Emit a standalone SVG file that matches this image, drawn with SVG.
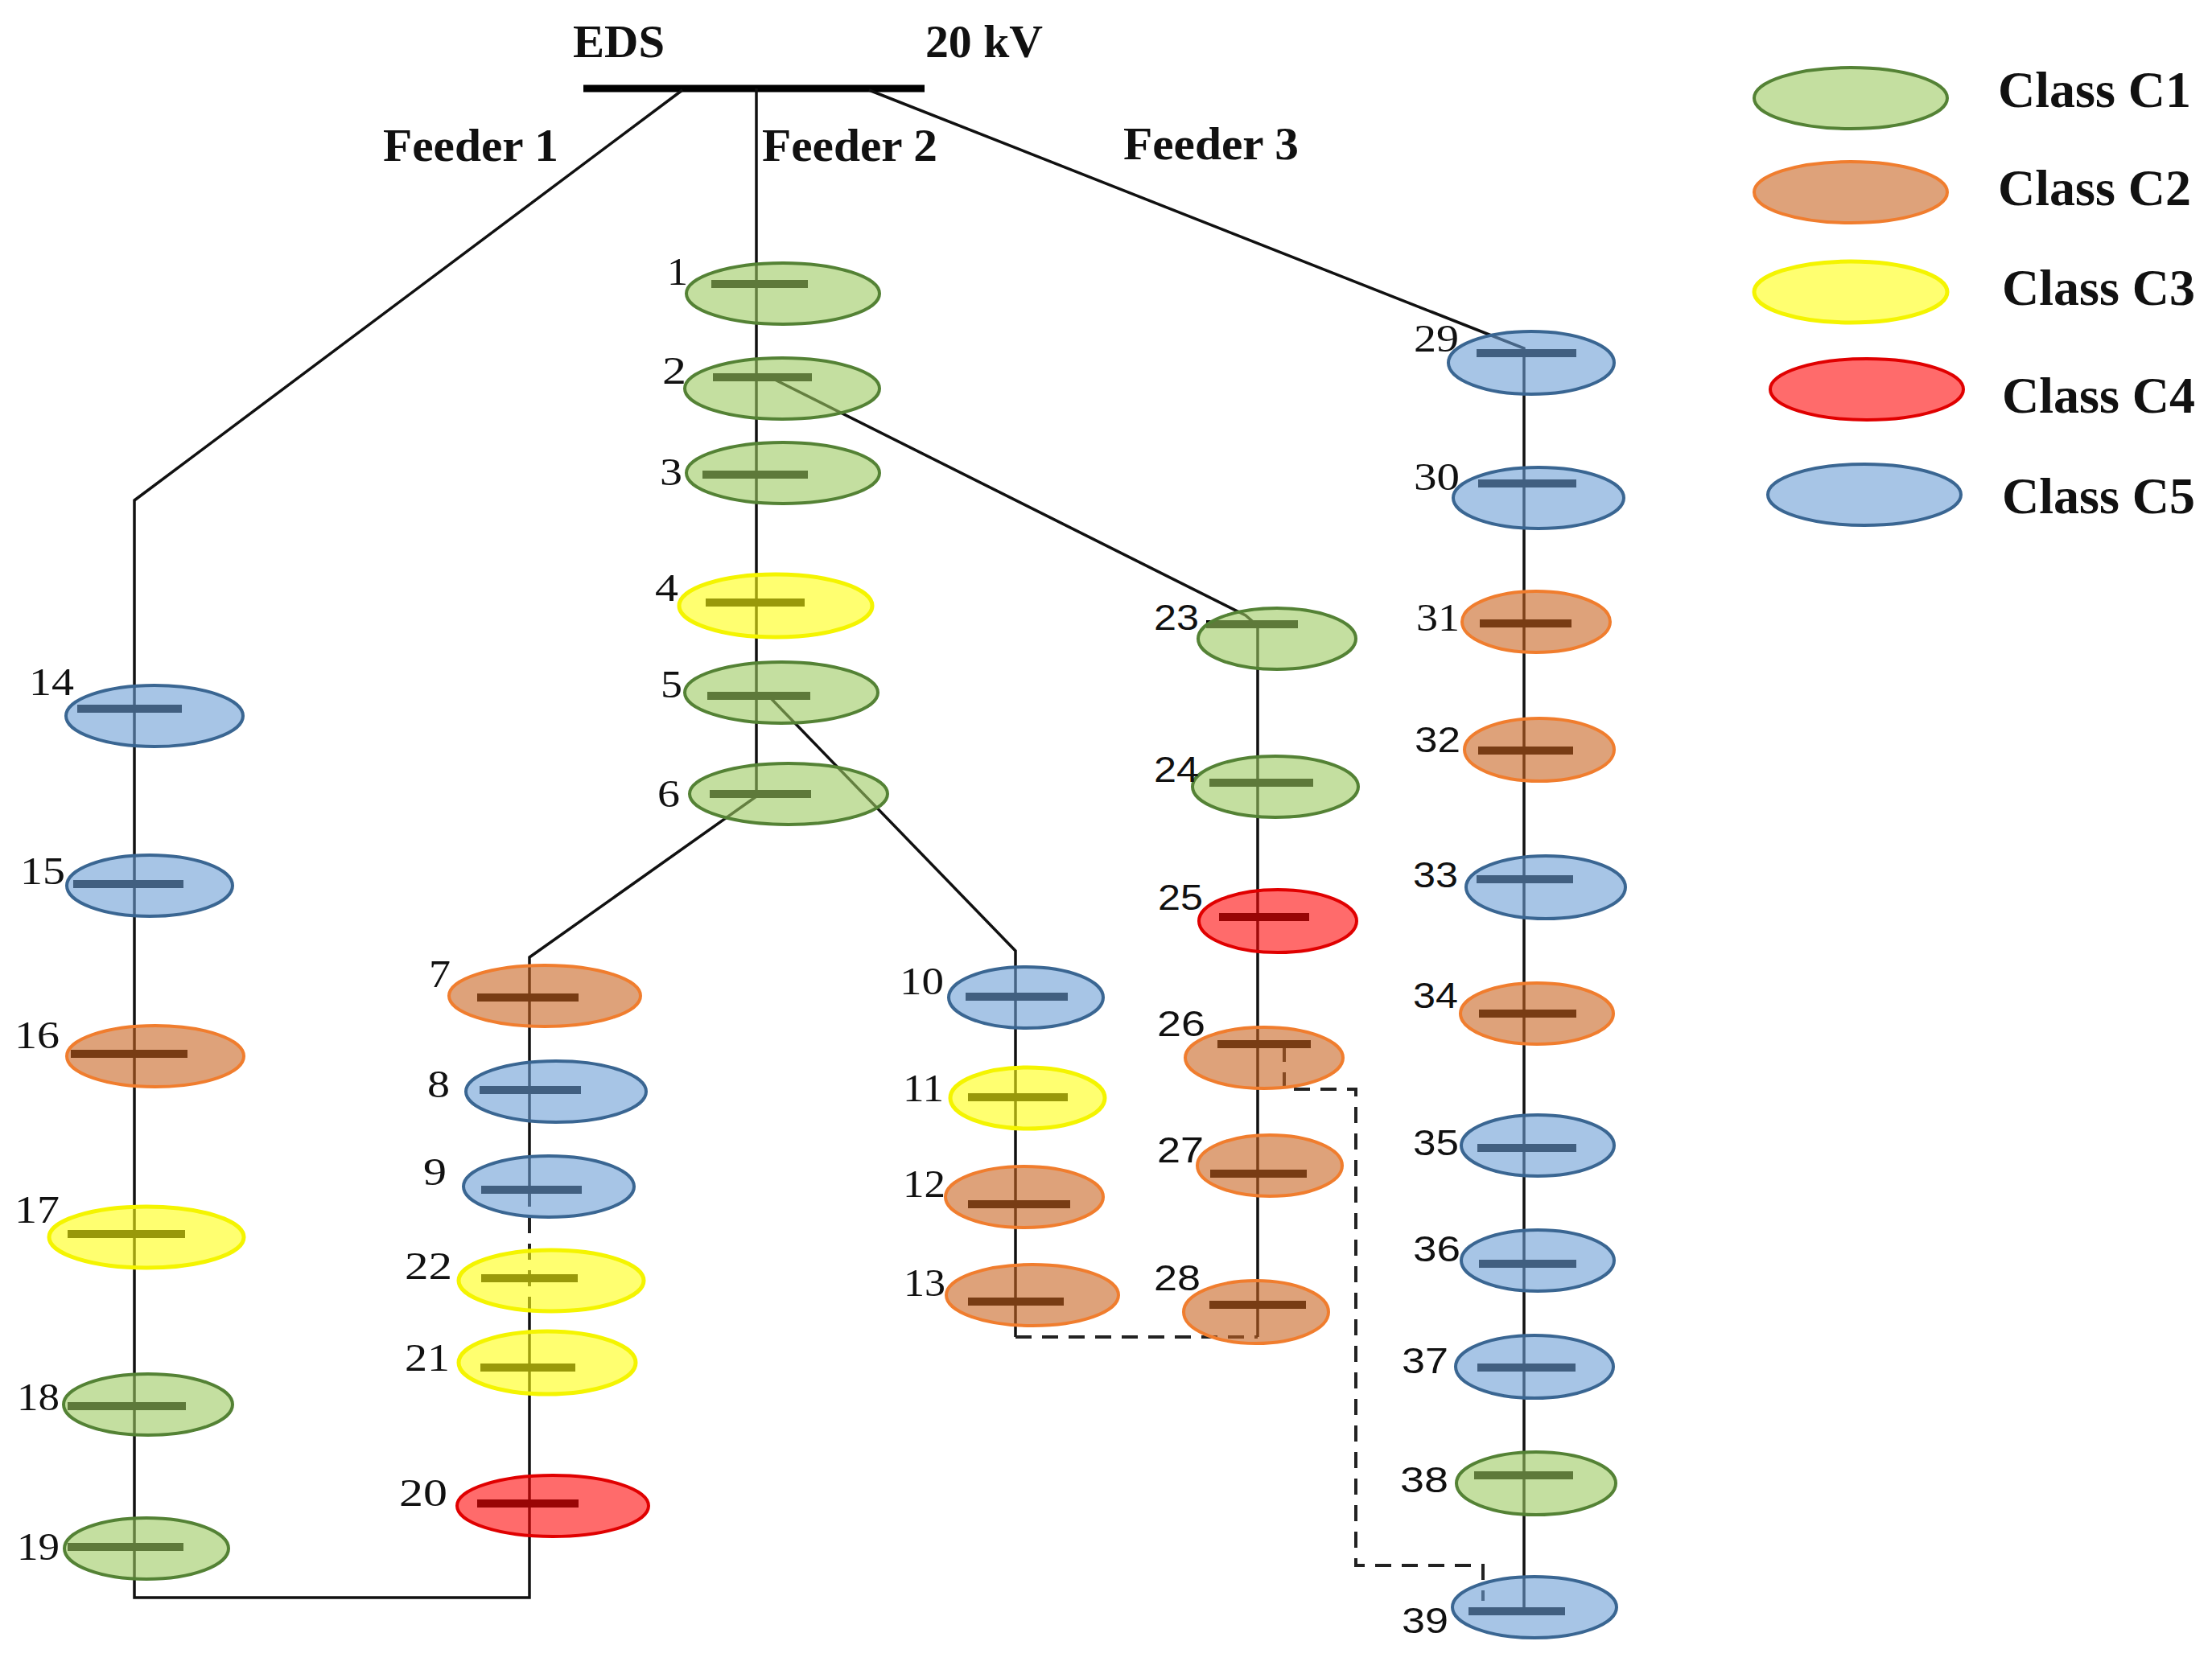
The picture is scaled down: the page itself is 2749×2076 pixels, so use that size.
<svg xmlns="http://www.w3.org/2000/svg" width="2749" height="2076" viewBox="0 0 2749 2076">
<style>
.ln{fill:none;stroke:#111;stroke-width:3.5;stroke-linejoin:miter}
.dl{fill:none;stroke:#222;stroke-width:4;stroke-dasharray:20 13}
.bar{stroke:#000;stroke-width:10}
.c1{fill:#9dca61;fill-opacity:0.6;stroke:#548235;stroke-width:4}
.c2{fill:#c86421;fill-opacity:0.6;stroke:#f07d2e;stroke-width:4}
.c3{fill:#ffff11;fill-opacity:0.6;stroke:#f4f400;stroke-width:5}
.c4{fill:#ff0808;fill-opacity:0.6;stroke:#e00000;stroke-width:4}
.c5{fill:#6c9ed5;fill-opacity:0.6;stroke:#3a6692;stroke-width:4}
.s{font-family:"Liberation Serif","Times New Roman",serif;font-size:48px;fill:#111}
.n{font-family:"Liberation Sans",Arial,sans-serif;font-size:45px;fill:#111}
.h{font-family:"Liberation Serif","Times New Roman",serif;font-weight:bold;font-size:56px;fill:#111}
.lg{font-family:"Liberation Serif","Times New Roman",serif;font-weight:bold;font-size:64px;fill:#111}
</style>
<rect width="2749" height="2076" fill="#fff"/>
<g id="header">
<line x1="725" y1="110" x2="1149" y2="110" stroke="#000" stroke-width="9"/>
<text class="h" x="712" y="71" textLength="114" lengthAdjust="spacingAndGlyphs">EDS</text>
<text class="h" x="1150" y="71" textLength="146" lengthAdjust="spacingAndGlyphs">20 kV</text>
<text class="h" x="476" y="200" textLength="218" lengthAdjust="spacingAndGlyphs">Feeder 1</text>
<text class="h" x="947" y="200" textLength="218" lengthAdjust="spacingAndGlyphs">Feeder 2</text>
<text class="h" x="1396" y="198" textLength="218" lengthAdjust="spacingAndGlyphs">Feeder 3</text>
</g>
<g id="connectors">
<path class="ln" d="M848,112 L167,622 L167,1986 L658,1986 L658,1630"/>
<path class="ln" d="M658,1480 L658,1190 L940,990"/>
<path class="dl" d="M658,1480 L658,1630"/>
<path class="ln" d="M940,110 L940,990"/>
<path class="ln" d="M955,865 L1262,1182 L1262,1662"/>
<path class="dl" d="M1262,1662 L1563,1662"/>
<path class="ln" d="M955,468 L1548,765 L1563,778 L1563,1662"/>
<path class="ln" d="M1080,112 L1894,433 L1894,2003"/>
<path class="dl" d="M1596,1300 L1596,1354 L1685,1354 L1685,1946 L1843,1946 L1843,1990"/>
</g>
<g id="node1"><line class="bar" x1="884" y1="353" x2="1004" y2="353"/><ellipse class="c1" cx="973" cy="365" rx="120" ry="38"/><text class="s" x="829" y="354" textLength="26" lengthAdjust="spacingAndGlyphs">1</text></g>
<g id="node2"><line class="bar" x1="886" y1="469" x2="1009" y2="469"/><ellipse class="c1" cx="972" cy="483" rx="121" ry="38"/><text class="s" x="823" y="477" textLength="30" lengthAdjust="spacingAndGlyphs">2</text></g>
<g id="node3"><line class="bar" x1="873" y1="590" x2="1004" y2="590"/><ellipse class="c1" cx="973" cy="588" rx="120" ry="38"/><text class="s" x="820" y="603" textLength="28" lengthAdjust="spacingAndGlyphs">3</text></g>
<g id="node4"><line class="bar" x1="877" y1="749" x2="1000" y2="749"/><ellipse class="c3" cx="964" cy="753" rx="120" ry="39"/><text class="s" x="814" y="747" textLength="29" lengthAdjust="spacingAndGlyphs">4</text></g>
<g id="node5"><line class="bar" x1="879" y1="865" x2="1007" y2="865"/><ellipse class="c1" cx="971" cy="861" rx="120" ry="38"/><text class="s" x="821" y="867" textLength="27" lengthAdjust="spacingAndGlyphs">5</text></g>
<g id="node6"><line class="bar" x1="882" y1="987" x2="1008" y2="987"/><ellipse class="c1" cx="980" cy="987" rx="123" ry="38"/><text class="s" x="817" y="1003" textLength="28" lengthAdjust="spacingAndGlyphs">6</text></g>
<g id="node7"><line class="bar" x1="593" y1="1240" x2="719" y2="1240"/><ellipse class="c2" cx="677" cy="1238" rx="119" ry="38"/><text class="s" x="533" y="1227" textLength="27" lengthAdjust="spacingAndGlyphs">7</text></g>
<g id="node8"><line class="bar" x1="596" y1="1355" x2="722" y2="1355"/><ellipse class="c5" cx="691" cy="1357" rx="112" ry="38"/><text class="s" x="531" y="1364" textLength="28" lengthAdjust="spacingAndGlyphs">8</text></g>
<g id="node9"><line class="bar" x1="598" y1="1479" x2="723" y2="1479"/><ellipse class="c5" cx="682" cy="1475" rx="106" ry="38"/><text class="s" x="526" y="1473" textLength="29" lengthAdjust="spacingAndGlyphs">9</text></g>
<g id="node10"><line class="bar" x1="1200" y1="1239" x2="1327" y2="1239"/><ellipse class="c5" cx="1275" cy="1240" rx="96" ry="38"/><text class="s" x="1118" y="1236" textLength="55" lengthAdjust="spacingAndGlyphs">10</text></g>
<g id="node11"><line class="bar" x1="1203" y1="1364" x2="1327" y2="1364"/><ellipse class="c3" cx="1277" cy="1365" rx="96" ry="38"/><text class="s" x="1122" y="1369" textLength="51" lengthAdjust="spacingAndGlyphs">11</text></g>
<g id="node12"><line class="bar" x1="1203" y1="1497" x2="1330" y2="1497"/><ellipse class="c2" cx="1273" cy="1488" rx="98" ry="38"/><text class="s" x="1122" y="1488" textLength="53" lengthAdjust="spacingAndGlyphs">12</text></g>
<g id="node13"><line class="bar" x1="1203" y1="1618" x2="1322" y2="1618"/><ellipse class="c2" cx="1283" cy="1610" rx="107" ry="38"/><text class="s" x="1123" y="1611" textLength="52" lengthAdjust="spacingAndGlyphs">13</text></g>
<g id="node14"><line class="bar" x1="96" y1="881" x2="226" y2="881"/><ellipse class="c5" cx="192" cy="890" rx="110" ry="38"/><text class="s" x="36" y="864" textLength="56" lengthAdjust="spacingAndGlyphs">14</text></g>
<g id="node15"><line class="bar" x1="91" y1="1099" x2="228" y2="1099"/><ellipse class="c5" cx="186" cy="1101" rx="103" ry="38"/><text class="s" x="25" y="1099" textLength="56" lengthAdjust="spacingAndGlyphs">15</text></g>
<g id="node16"><line class="bar" x1="88" y1="1310" x2="233" y2="1310"/><ellipse class="c2" cx="193" cy="1313" rx="110" ry="38"/><text class="s" x="18" y="1303" textLength="56" lengthAdjust="spacingAndGlyphs">16</text></g>
<g id="node17"><line class="bar" x1="84" y1="1534" x2="230" y2="1534"/><ellipse class="c3" cx="182" cy="1538" rx="121" ry="38"/><text class="s" x="18" y="1520" textLength="56" lengthAdjust="spacingAndGlyphs">17</text></g>
<g id="node18"><line class="bar" x1="84" y1="1748" x2="231" y2="1748"/><ellipse class="c1" cx="184" cy="1746" rx="105" ry="38"/><text class="s" x="21" y="1753" textLength="53" lengthAdjust="spacingAndGlyphs">18</text></g>
<g id="node19"><line class="bar" x1="84" y1="1923" x2="228" y2="1923"/><ellipse class="c1" cx="182" cy="1925" rx="102" ry="38"/><text class="s" x="21" y="1939" textLength="53" lengthAdjust="spacingAndGlyphs">19</text></g>
<g id="node20"><line class="bar" x1="593" y1="1869" x2="719" y2="1869"/><ellipse class="c4" cx="687" cy="1872" rx="119" ry="38"/><text class="s" x="496" y="1872" textLength="60" lengthAdjust="spacingAndGlyphs">20</text></g>
<g id="node21"><line class="bar" x1="597" y1="1700" x2="715" y2="1700"/><ellipse class="c3" cx="680" cy="1694" rx="110" ry="39"/><text class="s" x="503" y="1704" textLength="56" lengthAdjust="spacingAndGlyphs">21</text></g>
<g id="node22"><line class="bar" x1="598" y1="1589" x2="718" y2="1589"/><ellipse class="c3" cx="685" cy="1592" rx="115" ry="38"/><text class="s" x="503" y="1590" textLength="59" lengthAdjust="spacingAndGlyphs">22</text></g>
<g id="node23"><line class="bar" x1="1499" y1="776" x2="1613" y2="776"/><ellipse class="c1" cx="1587" cy="794" rx="98" ry="38"/><text class="n" x="1434" y="783" textLength="56" lengthAdjust="spacingAndGlyphs">23</text></g>
<g id="node24"><line class="bar" x1="1503" y1="973" x2="1632" y2="973"/><ellipse class="c1" cx="1585" cy="978" rx="103" ry="38"/><text class="n" x="1434" y="972" textLength="56" lengthAdjust="spacingAndGlyphs">24</text></g>
<g id="node25"><line class="bar" x1="1515" y1="1140" x2="1627" y2="1140"/><ellipse class="c4" cx="1588" cy="1145" rx="98" ry="39"/><text class="n" x="1439" y="1131" textLength="56" lengthAdjust="spacingAndGlyphs">25</text></g>
<g id="node26"><line class="bar" x1="1513" y1="1298" x2="1629" y2="1298"/><ellipse class="c2" cx="1571" cy="1315" rx="98" ry="38"/><text class="n" x="1438" y="1288" textLength="60" lengthAdjust="spacingAndGlyphs">26</text></g>
<g id="node27"><line class="bar" x1="1504" y1="1459" x2="1624" y2="1459"/><ellipse class="c2" cx="1578" cy="1449" rx="90" ry="38"/><text class="n" x="1438" y="1445" textLength="58" lengthAdjust="spacingAndGlyphs">27</text></g>
<g id="node28"><line class="bar" x1="1503" y1="1622" x2="1623" y2="1622"/><ellipse class="c2" cx="1561" cy="1631" rx="90" ry="39"/><text class="n" x="1434" y="1604" textLength="58" lengthAdjust="spacingAndGlyphs">28</text></g>
<g id="node29"><line class="bar" x1="1835" y1="439" x2="1959" y2="439"/><ellipse class="c5" cx="1903" cy="451" rx="103" ry="39"/><text class="s" x="1757" y="437" textLength="56" lengthAdjust="spacingAndGlyphs">29</text></g>
<g id="node30"><line class="bar" x1="1837" y1="601" x2="1959" y2="601"/><ellipse class="c5" cx="1912" cy="619" rx="106" ry="38"/><text class="s" x="1757" y="609" textLength="57" lengthAdjust="spacingAndGlyphs">30</text></g>
<g id="node31"><line class="bar" x1="1839" y1="775" x2="1953" y2="775"/><ellipse class="c2" cx="1909" cy="773" rx="92" ry="38"/><text class="s" x="1760" y="784" textLength="54" lengthAdjust="spacingAndGlyphs">31</text></g>
<g id="node32"><line class="bar" x1="1837" y1="933" x2="1955" y2="933"/><ellipse class="c2" cx="1913" cy="932" rx="93" ry="39"/><text class="n" x="1758" y="935" textLength="57" lengthAdjust="spacingAndGlyphs">32</text></g>
<g id="node33"><line class="bar" x1="1835" y1="1093" x2="1955" y2="1093"/><ellipse class="c5" cx="1921" cy="1103" rx="99" ry="39"/><text class="n" x="1756" y="1103" textLength="56" lengthAdjust="spacingAndGlyphs">33</text></g>
<g id="node34"><line class="bar" x1="1838" y1="1260" x2="1959" y2="1260"/><ellipse class="c2" cx="1910" cy="1260" rx="95" ry="38"/><text class="n" x="1756" y="1253" textLength="56" lengthAdjust="spacingAndGlyphs">34</text></g>
<g id="node35"><line class="bar" x1="1836" y1="1427" x2="1959" y2="1427"/><ellipse class="c5" cx="1911" cy="1424" rx="95" ry="38"/><text class="n" x="1756" y="1436" textLength="57" lengthAdjust="spacingAndGlyphs">35</text></g>
<g id="node36"><line class="bar" x1="1838" y1="1571" x2="1959" y2="1571"/><ellipse class="c5" cx="1911" cy="1567" rx="95" ry="38"/><text class="n" x="1756" y="1568" textLength="59" lengthAdjust="spacingAndGlyphs">36</text></g>
<g id="node37"><line class="bar" x1="1836" y1="1700" x2="1958" y2="1700"/><ellipse class="c5" cx="1907" cy="1699" rx="98" ry="39"/><text class="n" x="1742" y="1707" textLength="58" lengthAdjust="spacingAndGlyphs">37</text></g>
<g id="node38"><line class="bar" x1="1832" y1="1834" x2="1955" y2="1834"/><ellipse class="c1" cx="1909" cy="1844" rx="99" ry="39"/><text class="n" x="1740" y="1855" textLength="60" lengthAdjust="spacingAndGlyphs">38</text></g>
<g id="node39"><line class="bar" x1="1825" y1="2003" x2="1945" y2="2003"/><ellipse class="c5" cx="1907" cy="1998" rx="102" ry="38"/><text class="n" x="1742" y="2030" textLength="58" lengthAdjust="spacingAndGlyphs">39</text></g>
<g id="legend">
<ellipse class="c1" cx="2300" cy="122" rx="120" ry="38"/>
<text class="lg" x="2483" y="133">Class C1</text>
<ellipse class="c2" cx="2300" cy="239" rx="120" ry="38"/>
<text class="lg" x="2483" y="255">Class C2</text>
<ellipse class="c3" cx="2300" cy="363" rx="120" ry="38"/>
<text class="lg" x="2488" y="379">Class C3</text>
<ellipse class="c4" cx="2320" cy="484" rx="120" ry="38"/>
<text class="lg" x="2488" y="513">Class C4</text>
<ellipse class="c5" cx="2317" cy="615" rx="120" ry="38"/>
<text class="lg" x="2488" y="638">Class C5</text>
</g>
</svg>
